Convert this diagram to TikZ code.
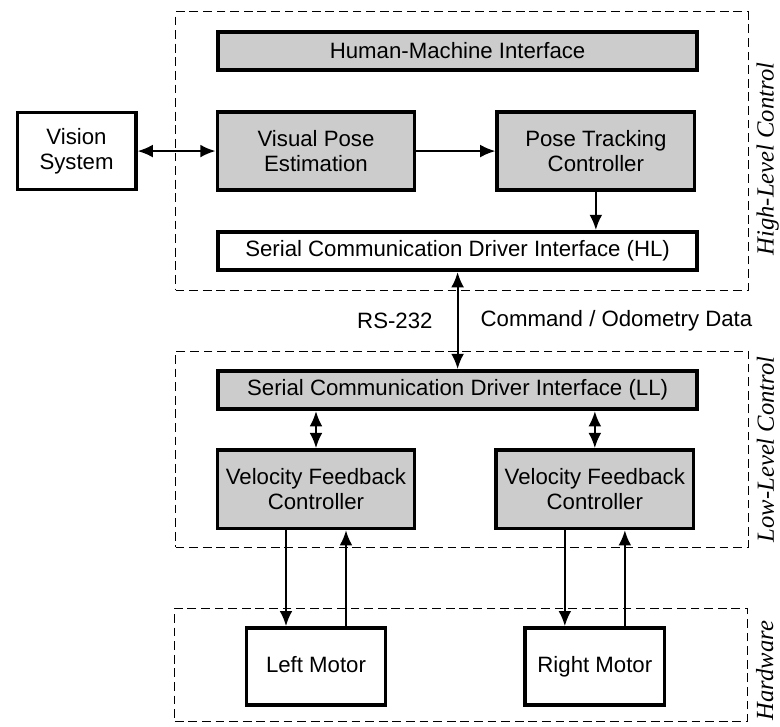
\documentclass[tikz,border=0pt]{standalone}
\usepackage{fontspec}
\setmainfont{Liberation Serif}
\setsansfont{Liberation Sans}
\usetikzlibrary{arrows.meta, positioning, calc, fit}

\begin{document}
\begin{tikzpicture}[
  block/.style = {draw, line width=2.6pt, fill=gray!40, minimum width=4.93cm, minimum height=1.96cm, align=center, font=\sffamily\fontsize{15.8}{18}\selectfont},
  wideblock/.style = {block, minimum width=11.98cm, minimum height=0.96cm, inner ysep=1.5pt},
  motor/.style = {block, fill=white, minimum width=3.48cm, minimum height=1.93cm, text depth=0.25em},
  group/.style = {draw, line width=0.7pt, dash pattern=on 0.22cm off 0.12cm, inner sep=0pt},
  sidelabel/.style = {rotate=90, anchor=base, inner sep=0pt, font=\itshape\fontsize{17.5}{20}\selectfont},
  busnote/.style = {inner sep=0pt, font=\sffamily\fontsize{15.8}{18}\selectfont},
  arrow/.style = {line width=1.5pt, -{Latex[length=0.38cm, width=0.32cm]}},
  dblarrow/.style = {line width=1.5pt, {Latex[length=0.38cm, width=0.32cm]}-{Latex[length=0.38cm, width=0.32cm]}}
]
  \useasboundingbox (0,0) rectangle (19.5,-18.175);

  % High-level control
  \node[wideblock] (hmi) at (11.44,-1.275) {Human-Machine Interface};
  \node[block, below=0.95cm of hmi, xshift=-3.54cm] (vpe) {Visual Pose\\Estimation};
  \node[block, right=1.975cm of vpe] (ptc) {Pose Tracking\\Controller};
  \node[motor, text depth=, minimum width=2.96cm, left=1.95cm of vpe] (vision) {Vision\\System};
  \node[wideblock, fill=white, below=3.95cm of hmi] (hl) {Serial Communication Driver Interface (HL)};

  % Low-level control
  \node[wideblock, below=2.425cm of hl] (ll) {Serial Communication Driver Interface (LL)};
  \node[block, below=0.925cm of ll, xshift=-3.54cm] (vfcl) {Velocity Feedback\\Controller};
  \node[block, right=1.95cm of vfcl] (vfcr) {Velocity Feedback\\Controller};

  % Hardware
  \node[motor, below=2.4cm of vfcl] (lmotor) {Left Motor};
  \node[motor, below=2.4cm of vfcr] (rmotor) {Right Motor};

  % Dashed groups
  \coordinate (hlnw) at ($(vpe.west |- hmi.north)+(-1,0.45)$);
  \coordinate (hlse) at ($(hmi.east |- hl.south)+(1.23,-0.45)$);
  \node[group, fit=(hlnw)(hlse)] (hlbox) {};
  \coordinate (llnw) at ($(vfcl.west |- ll.north)+(-1,0.45)$);
  \coordinate (llse) at ($(ll.east |- vfcl.south)+(1.24,-0.43)$);
  \node[group, fit=(llnw)(llse)] (llbox) {};
  \coordinate (hwnw) at ($(vfcl.west |- lmotor.north)+(-1.02,0.45)$);
  \coordinate (hwse) at ($(ll.east |- rmotor.south)+(1.22,-0.35)$);
  \node[group, fit=(hwnw)(hwse)] (hwbox) {};

  \node[sidelabel] at ($(hlbox.east)+(0.62,-0.2)$) {High-Level Control};
  \node[sidelabel] at ($(llbox.east)+(0.62,0)$) {Low-Level Control};
  \node[sidelabel] at ($(hwbox.east)+(0.62,-0.15)$) {Hardware};

  % Connectors
  \draw[dblarrow] (vision) -- (vpe);
  \draw[arrow] (vpe) -- (ptc);
  \draw[arrow] (ptc.south) -- (ptc.south |- hl.north);
  \draw[dblarrow] (hl.south) -- node[busnote, left=0.6cm] {RS-232}
    node[busnote, right=0.55cm] {Command / Odometry Data} (ll.north);
  \draw[dblarrow] (vfcl.north |- ll.south) -- (vfcl.north);
  \draw[dblarrow] (vfcr.north |- ll.south) -- (vfcr.north);
  \draw[arrow] ([xshift=-0.75cm]vfcl.south) -- ([xshift=-0.75cm]lmotor.north);
  \draw[arrow] ([xshift=0.75cm]lmotor.north) -- ([xshift=0.75cm]vfcl.south);
  \draw[arrow] ([xshift=-0.75cm]vfcr.south) -- ([xshift=-0.75cm]rmotor.north);
  \draw[arrow] ([xshift=0.75cm]rmotor.north) -- ([xshift=0.75cm]vfcr.south);

\end{tikzpicture}
\end{document}
